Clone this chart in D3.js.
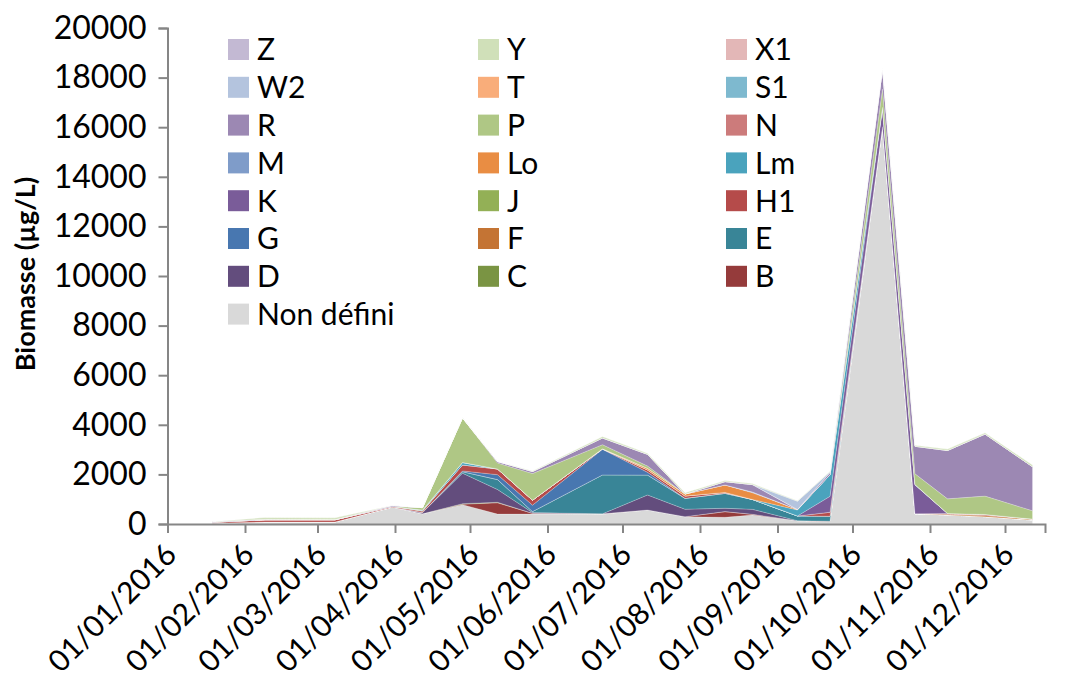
<!DOCTYPE html>
<html><head><meta charset="utf-8">
<script src="https://cdn.jsdelivr.net/npm/d3@7"></script>
<style>body{margin:0;background:#fff}svg{display:block}</style>
</head><body><svg id="c" width="1069" height="683"></svg>
<script>
const dates = ["2016-01-19","2016-02-09","2016-03-08","2016-03-31","2016-04-12","2016-04-28","2016-05-12","2016-05-26","2016-06-23","2016-07-11","2016-07-26","2016-08-11","2016-08-22","2016-09-09","2016-09-22","2016-10-13","2016-10-26","2016-11-08","2016-11-23","2016-12-12"];
const nonDefini = [30,80,80,680,410,780,400,400,400,565,295,270,360,135,95,16020,410,365,295,160];
const B  = [0,0,0,0,0,20,455,30,10,0,0,230,30,0,20,0,0,0,0,0];
const C  = [0,0,0,0,0,20,20,0,0,0,0,0,0,0,0,0,0,0,0,0];
const D  = [0,0,0,0,50,1230,515,30,0,605,300,135,200,0,0,0,0,0,0,0];
const E  = [0,0,0,0,0,60,400,40,1570,805,440,600,400,190,200,0,0,0,0,0];
const F  = [0,0,0,0,0,0,0,0,0,0,0,0,0,0,0,0,0,30,50,40];
const G  = [0,0,0,0,0,30,200,260,1030,110,0,0,0,0,0,0,0,0,0,0];
const H1 = [40,90,90,30,50,240,230,200,20,95,95,40,0,0,160,0,0,30,40,0];
const J  = [0,0,0,0,20,0,0,0,0,0,0,0,0,0,0,0,0,0,0,0];
const K  = [0,0,0,0,0,0,0,0,0,0,0,0,0,0,640,740,1160,0,0,0];
const Lm = [0,0,0,0,30,100,0,0,0,0,0,0,0,240,870,40,20,0,0,0];
const Lo = [0,0,0,0,0,0,0,0,0,65,80,300,270,20,0,0,0,0,0,0];
const M  = [0,0,0,0,0,0,0,0,0,0,0,0,30,0,0,0,0,0,0,0];
const N  = [0,0,0,0,0,0,0,0,0,0,0,0,0,0,0,0,0,0,0,0];
const P  = [0,0,0,0,100,1800,240,1075,170,95,0,0,0,0,0,740,435,590,740,335];
const R  = [25,25,10,40,0,0,60,80,270,470,0,135,300,0,95,835,1110,1950,2500,1775];
const S1 = [0,0,0,0,0,0,0,0,0,0,0,0,0,0,0,0,0,0,0,0];
const T  = [0,0,0,0,0,0,0,0,0,0,0,0,0,0,0,0,0,0,0,0];
const W2 = [0,0,0,0,0,0,0,0,0,0,0,0,0,335,30,0,0,0,0,0];
const X1 = [0,0,0,0,0,0,0,0,0,0,0,0,0,0,0,0,0,0,0,0];
const Y  = [0,70,70,0,0,0,0,20,60,40,55,40,40,20,20,0,40,55,50,70];
const Z  = [0,0,0,0,0,0,0,0,0,0,0,0,0,0,0,0,0,0,0,0];

const seriesNames = ["Non défini","B","C","D","E","F","G","H1","J","K","Lm","Lo","M","N","P","R","S1","T","W2","X1","Y","Z"];
const seriesValues = [nonDefini,B,C,D,E,F,G,H1,J,K,Lm,Lo,M,N,P,R,S1,T,W2,X1,Y,Z];
const seriesColors = ["#d9d9d9","#953b3b","#7a9443","#634d7d","#398597","#c47434","#4877b0","#b54b4a","#93b056","#7a5c99","#4aa3bd","#e98d43","#7f9cc9","#cc7b7b","#afc785","#9c88b3","#7eb9cf","#f9ad7a","#b4c4de","#e3b7b7","#d0e0b9","#c3b9d3"];
const yTicks = [0,2000,4000,6000,8000,10000,12000,14000,16000,18000,20000];
const legendRows = [["Z","Y","X1"],["W2","T","S1"],["R","P","N"],["M","Lo","Lm"],["K","J","H1"],["G","F","E"],["D","C","B"],["Non défini"]];

const parse = d3.timeParse("%Y-%m-%d");
const table = dates.map((d,i)=>{const o={date:parse(d)};seriesNames.forEach((n,j)=>o[n]=seriesValues[j][i]);return o;});

const svg = d3.select("#c");
const font = "Lato, 'Open Sans', sans-serif";
const x = d3.scaleTime().domain([parse("2016-01-01"), parse("2016-12-17")]).range([167.5, 1045]);
const y = d3.scaleLinear().domain([0,20000]).range([524,28]);

const stack = d3.stack().keys(seriesNames);
const layers = stack(table);
const area = d3.area().x(d=>x(d.data.date)).y0(d=>y(d[0])).y1(d=>y(d[1]));
const color = d3.scaleOrdinal().domain(seriesNames).range(seriesColors);

svg.append("g").selectAll("path").data(layers).join("path")
  .attr("d", area).attr("fill", d=>color(d.key))
  .attr("stroke","#ffffff").attr("stroke-opacity",0.35).attr("stroke-width",0.6);

// y axis
const gy = svg.append("g").attr("transform","translate(167.5,0)")
  .call(d3.axisLeft(y).tickValues(yTicks).tickSize(9).tickPadding(12).tickFormat(d3.format("d")));
gy.select(".domain").attr("stroke","#868686").attr("stroke-width",2);
gy.selectAll(".tick line").attr("stroke","#868686").attr("stroke-width",2);
gy.selectAll("text").attr("font-family",font).attr("font-size",32).attr("fill","#000");

// x axis
const gx = svg.append("g").attr("transform","translate(0,524)")
  .call(d3.axisBottom(x).ticks(d3.timeMonth.every(1)).tickSize(9).tickFormat(d3.timeFormat("%d/%m/%Y")));
gx.select(".domain").attr("stroke","#868686").attr("stroke-width",2);
gx.selectAll(".tick line").attr("stroke","#868686").attr("stroke-width",2);
gx.selectAll("text").attr("font-family",font).attr("font-size",30).attr("fill","#000")
  .attr("text-anchor","end").attr("dy","0.35em")
  .attr("transform","translate(3,25) rotate(-45)").attr("y",0).attr("x",0);

// y title
svg.append("text").attr("transform","translate(35,274) rotate(-90)")
  .attr("text-anchor","middle").attr("font-family",font).attr("font-weight","bold")
  .attr("font-size",27).attr("fill","#000").text("Biomasse (µg/L)");

// legend
const colX = [228, 478, 726];
const lg = svg.append("g");
legendRows.forEach((row,ri)=>{
  row.forEach((name,ci)=>{
    const cy = 49.5 + ri*37.8;
    lg.append("rect").attr("x",colX[ci]).attr("y",cy-10.5).attr("width",21).attr("height",21).attr("fill",color(name));
    lg.append("text").attr("x",colX[ci]+29).attr("y",cy).attr("dy","0.36em")
      .attr("font-family",font).attr("font-size",30).attr("fill","#000").text(name);
  });
});
</script></body></html>
